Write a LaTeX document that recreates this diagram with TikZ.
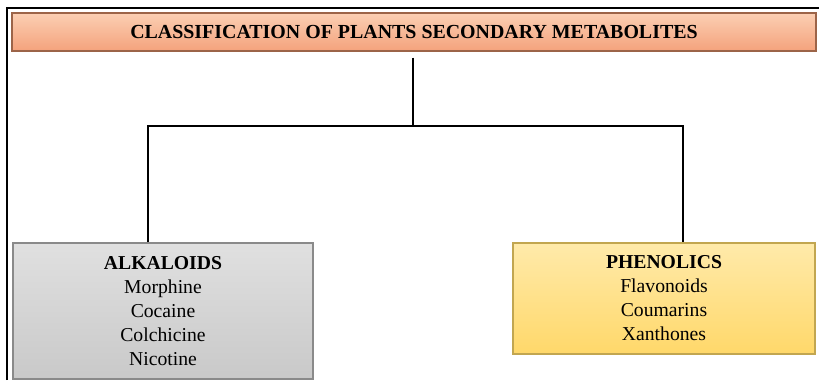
\documentclass[tikz,border=0pt]{standalone}
\usepackage{fontspec}
\setmainfont{Liberation Serif}
\usetikzlibrary{shadows}

\definecolor{titletop}{HTML}{FBCFB3}
\definecolor{titlebot}{HTML}{F4A27C}
\definecolor{titleline}{HTML}{9C6448}
\definecolor{greytop}{HTML}{E0E0E0}
\definecolor{greybot}{HTML}{C9C9C9}
\definecolor{greyline}{HTML}{8A8A8A}
\definecolor{yeltop}{HTML}{FFEAAA}
\definecolor{yelbot}{HTML}{FFD86A}
\definecolor{yelline}{HTML}{C2A650}

\begin{document}
\begin{tikzpicture}[x=0.03cm,y=-0.03cm,
    conn/.style={line width=1.9pt,black},
    box/.style={draw,line width=0.9pt,inner sep=0pt,align=center,
      font=\fontsize{16.8}{20.5}\selectfont,
      drop shadow={shadow xshift=1pt,shadow yshift=-1pt,opacity=0.25}},
    titlebox/.style={box,draw=titleline,top color=titletop,bottom color=titlebot,
      minimum width=804*0.03cm,minimum height=38*0.03cm,
      font=\fontsize{17}{19}\selectfont\bfseries},
    greybox/.style={box,draw=greyline,top color=greytop,bottom color=greybot,
      minimum width=300*0.03cm,minimum height=136*0.03cm},
    yelbox/.style={box,draw=yelline,top color=yeltop,bottom color=yelbot,
      minimum width=302*0.03cm,minimum height=111*0.03cm}]
  % --- page: 819 x 380 px
  \useasboundingbox (0,0) rectangle (819,380);

  % --- outer frame (left and top edges only show)
  \draw[line width=0.9pt] (7,380) -- (7,8) -- (819,8);

  %---------------------------------------
  % top box
  \node[titlebox] (title) at (414,32) {CLASSIFICATION OF PLANTS SECONDARY METABOLITES};

  %---------------------------------------
  % the two groups
  \node[greybox] (alk) at (163,311)
    {\textbf{ALKALOIDS}\\Morphine\\Cocaine\\Colchicine\\Nicotine};
  \node[yelbox] (phe) at (664,298.5)
    {\textbf{PHENOLICS}\\Flavonoids\\Coumarins\\Xanthones};

  %---------------------------------------
  % connectors
  \coordinate (hub) at (413,126);
  \coordinate (lbr) at (148,126);
  \coordinate (rbr) at (683,126);
  \draw[conn,shorten <=0.18cm] (title.south -| hub) -- (hub);
  \draw[conn] (alk.north -| lbr) -- (lbr) -- (rbr) -- (phe.north -| rbr);
\end{tikzpicture}
\end{document}
